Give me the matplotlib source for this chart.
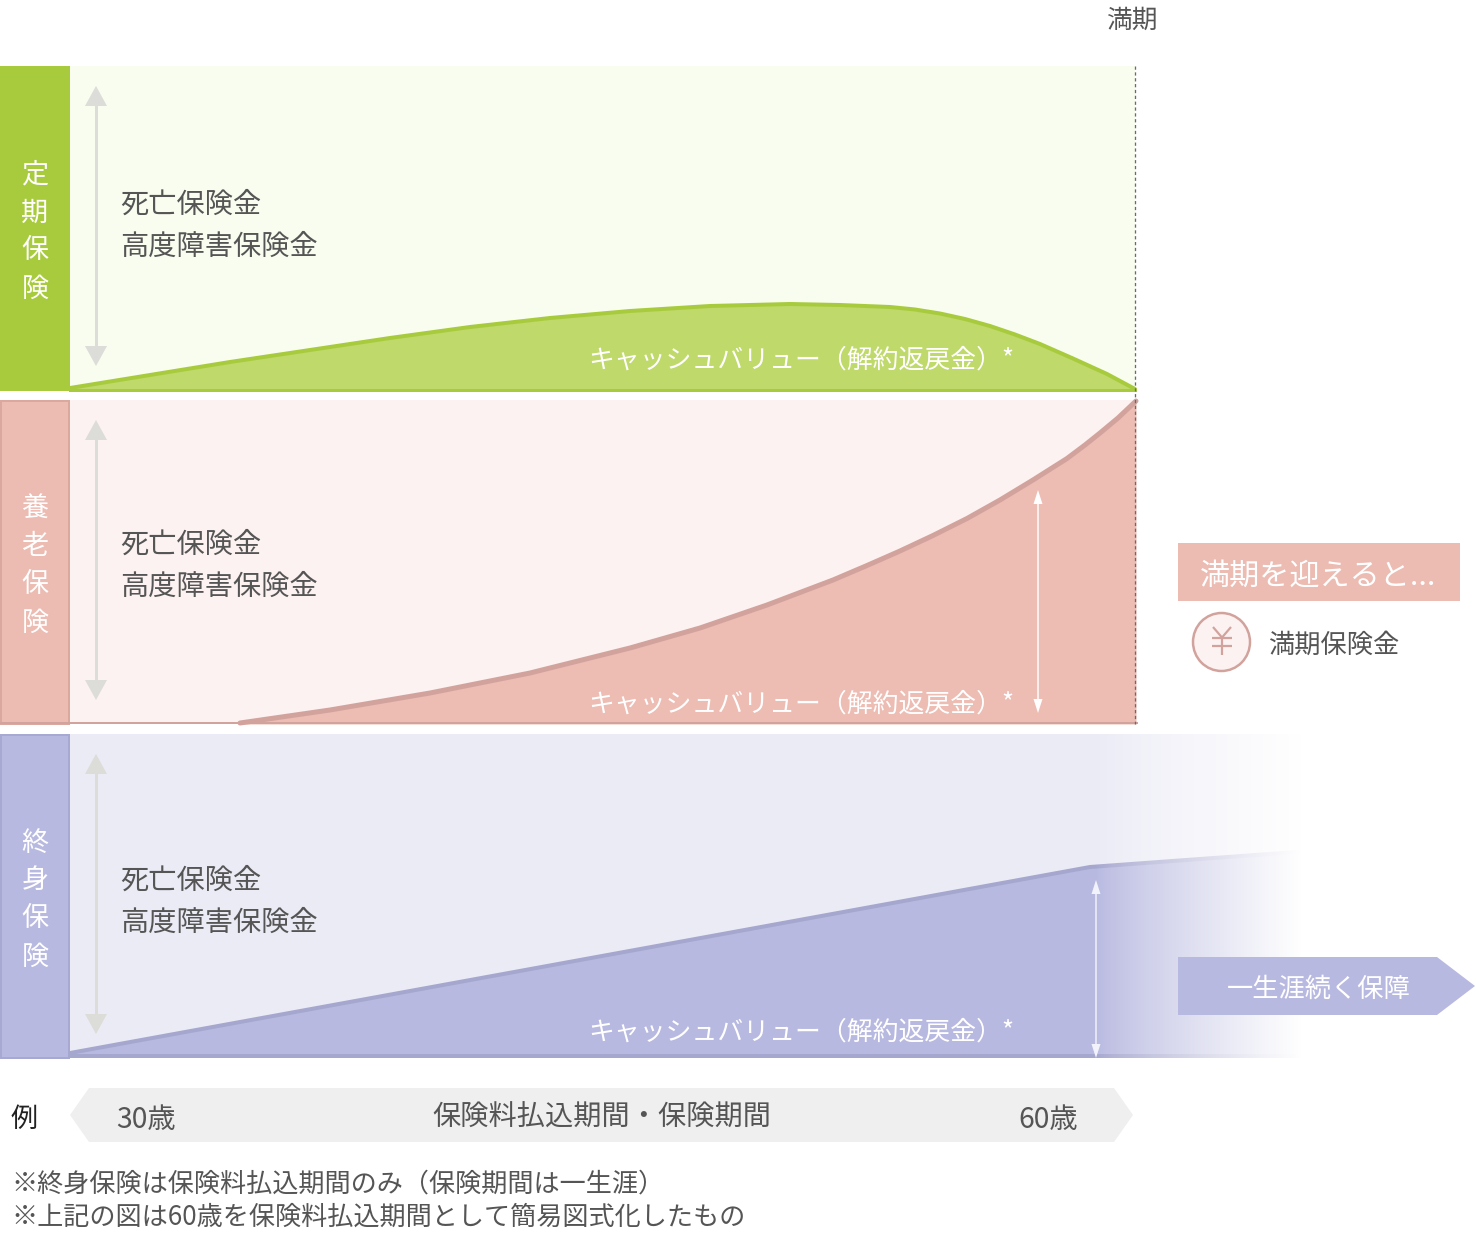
import numpy as np
import matplotlib.pyplot as plt
from matplotlib.patches import Rectangle, Polygon, Ellipse

plt.rcParams['font.family'] = ['Noto Sans CJK JP', 'DejaVu Sans']

# texts
plan_names = ['定期保険', '養老保険', '終身保険']
benefit_lines = ['死亡保険金', '高度障害保険金']
cash_label = 'キャッシュバリュー（解約返戻金）*'
maturity_label = '満期'
maturity_box = '満期を迎えると...'
maturity_benefit = '満期保険金'
lifetime_label = '一生涯続く保障'
example_label = '例'
age_start = '30歳'
age_end = '60歳'
period_label = '保険料払込期間・保険期間'
notes = ['※終身保険は保険料払込期間のみ（保険期間は一生涯）',
         '※上記の図は60歳を保険料払込期間として簡易図式化したもの']

# cash value curves (picture pixel coords)
term_x = [70, 150, 230, 310, 390, 470, 550, 630, 710, 790, 840, 890, 915, 940, 965,
          990, 1015, 1040, 1073, 1107, 1135]
term_y = [388, 375, 362, 350, 338, 327, 318, 311, 306, 304, 305, 307, 309.5, 313.5, 319,
          326, 334.5, 344, 358.5, 374, 389]
endow_x = [240, 330, 430, 530, 630, 700, 767, 833, 867, 900, 933, 967, 1000, 1033,
           1067, 1085, 1100, 1118, 1136]
endow_y = [723, 710, 693, 673, 648, 628, 605, 580, 565.5, 551, 535.5, 518.5, 500, 480,
           458.5, 445, 433, 418, 401]
whole_x = [70, 1090, 1310]
whole_y = [1053, 867, 851]

GREEN_D, GREEN_F, GREEN_BG = '#a8cb3e', '#bfd96b', '#f8fdef'
PINK_C, PINK_BD, PINK_BG, PINK_F, PINK_L = '#ecbbb2', '#dba89f', '#fcf2f1', '#edbcb3', '#d2a39d'
PURP_C, PURP_BD, PURP_BG, PURP_F, PURP_L = '#b8b9e0', '#a8a9d2', '#ebebf6', '#b8b9e0', '#a6a7cf'
ARROW_GRAY = '#dcdcd8'
TXT = '#555555'

fig = plt.figure(figsize=(14.76, 12.42), dpi=100)
ax = fig.add_axes([0, 0, 1, 1])
ax.set_xlim(0, 1476)
ax.set_ylim(1242, 0)
ax.axis('off')


def px(v):
    return v * 0.72


def double_arrow(x, y0, y1, color, shaft, hw, hl, z=5):
    ax.plot([x, x], [y0 + hl * 0.6, y1 - hl * 0.6], color=color, lw=px(shaft),
            solid_capstyle='butt', zorder=z)
    ax.add_patch(Polygon([(x, y0), (x - hw / 2, y0 + hl), (x + hw / 2, y0 + hl)],
                         closed=True, fc=color, ec='none', zorder=z))
    ax.add_patch(Polygon([(x, y1), (x - hw / 2, y1 - hl), (x + hw / 2, y1 - hl)],
                         closed=True, fc=color, ec='none', zorder=z))


tops = [66, 400, 734]
H = 324
cols = [(GREEN_D, GREEN_D), (PINK_C, PINK_BD), (PURP_C, PURP_BD)]
benefit_y = [205, 545, 881]
cash_y = [360, 704, 1032]
name_y = [175, 509, 843]

# backgrounds
ax.add_patch(Rectangle((70, tops[0]), 1065, H + 1, fc=GREEN_BG, ec='none', zorder=1))
ax.add_patch(Rectangle((70, tops[1]), 1065, H, fc=PINK_BG, ec='none', zorder=1))
ax.add_patch(Rectangle((70, tops[2]), 1270, H, fc=PURP_BG, ec='none', zorder=1))

# label columns
for k, (name, top, (fc, bd)) in enumerate(zip(plan_names, tops, cols)):
    ax.add_patch(Rectangle((1, top + 1), 68, H - 1, fc=fc, ec=bd, lw=px(2), zorder=2))
    for i, ch in enumerate(name):
        ax.text(35, name_y[k] + i * 38, ch, color='white', fontsize=19.5,
                ha='center', va='center', zorder=3)
    double_arrow(96, top + 20, top + 300, ARROW_GRAY, 3, 22, 20)
    for j, line in enumerate(benefit_lines):
        ax.text(120, benefit_y[k] + j * 42, line, color=TXT, fontsize=20.3,
                ha='left', va='center', zorder=6)

# term insurance curve
ax.fill_between(term_x, term_y, 390, color=GREEN_F, lw=0, zorder=3)
ax.plot(term_x, term_y, color=GREEN_D, lw=px(4), zorder=4, solid_capstyle='round',
        solid_joinstyle='round')
ax.plot([70, 1135], [389.5, 389.5], color=GREEN_D, lw=px(3), zorder=4)

# endowment curve
ax.fill_between(endow_x, endow_y, 724, color=PINK_F, lw=0, zorder=3)
ax.plot([0, 1137], [723, 723], color=PINK_L, lw=px(2), zorder=4)
ax.plot(endow_x, endow_y, color=PINK_L, lw=px(5), zorder=4, solid_capstyle='round',
        solid_joinstyle='round')
double_arrow(1038, 490, 713, 'white', 1.5, 9, 14)

# whole life
wx = whole_x + [whole_x[-1], whole_x[0]]
wy = whole_y + [1058, 1058]
ax.add_patch(Polygon(list(zip(wx, wy)), closed=True, fc=PURP_F, ec='none', zorder=3))
ax.plot(whole_x, whole_y, color=PURP_L, lw=px(4), zorder=4, solid_capstyle='round')
ax.plot([70, 1330], [1056, 1056], color=PURP_L, lw=px(4), zorder=4)
double_arrow(1096, 880, 1058, '#f2f2fa', 1.5, 9, 14)

# white fade over the right side of whole-life panel
xs = np.linspace(1095, 1345, 300)
alpha = np.clip((xs - 1095) / (1300 - 1095), 0, 1) ** 0.8
grad = np.ones((2, xs.size, 4))
grad[..., 3] = alpha
ax.imshow(grad, extent=[1095, 1345, 1064, 728], aspect='auto', interpolation='bilinear', zorder=7)
ax.set_xlim(0, 1476)
ax.set_ylim(1242, 0)

# cash value labels
for cy in cash_y:
    ax.text(588, cy, cash_label, color='white', fontsize=18.6,
            ha='left', va='center', zorder=8)

# maturity dashed line
ax.plot([1135, 1135], [66, 724], color='#6a6a6a', lw=px(1.3), ls=(0, (2.5, 2)), zorder=8)
ax.text(1132, 21, maturity_label, color=TXT, fontsize=18.5, ha='center', va='center')

# maturity box and yen badge
ax.add_patch(Rectangle((1178, 543), 282, 58, fc=PINK_C, ec='none', zorder=8))
ax.text(1200, 576, maturity_box, color='white', fontsize=21.7, ha='left', va='center', zorder=9)
ax.add_patch(Ellipse((1221.5, 642), 57, 58, fc=PINK_BG, ec=PINK_L, lw=px(2.5), zorder=8))
yen_kw = dict(color=PINK_L, lw=px(2.2), zorder=9, solid_capstyle='butt')
ax.plot([1213, 1222, 1231], [627, 637.5, 627], **yen_kw)
ax.plot([1222, 1222], [637.5, 655], **yen_kw)
ax.plot([1212, 1232], [638, 638], **yen_kw)
ax.plot([1212, 1232], [645.5, 645.5], **yen_kw)
ax.text(1268, 645, maturity_benefit, color=TXT, fontsize=18.9, ha='left', va='center', zorder=9)

# lifetime coverage arrow box
ax.add_patch(Polygon([(1178, 957), (1437, 957), (1475, 986), (1437, 1015), (1178, 1015)],
                     closed=True, fc=PURP_C, ec='none', zorder=9))
ax.text(1319, 989, lifetime_label, color='white', fontsize=18.9, ha='center', va='center', zorder=10)

# age / period bar
ax.add_patch(Polygon([(70, 1115), (89, 1088), (1114, 1088), (1133, 1115), (1114, 1142), (89, 1142)],
                     closed=True, fc='#efefef', ec='none', zorder=2))
ax.text(24, 1119, example_label, color='#222222', fontsize=19.5, ha='center', va='center')
ax.text(146, 1120, age_start, color=TXT, fontsize=20.3, ha='center', va='center', zorder=3)
ax.text(602, 1118, period_label, color=TXT, fontsize=20.3, ha='center', va='center', zorder=3)
ax.text(1048, 1120, age_end, color=TXT, fontsize=20.3, ha='center', va='center', zorder=3)

for k, note in enumerate(notes):
    ax.text(11, 1183.5 + k * 34, note, color=TXT, fontsize=18.8, ha='left', va='center')

fig.savefig('out.png', dpi=100)
